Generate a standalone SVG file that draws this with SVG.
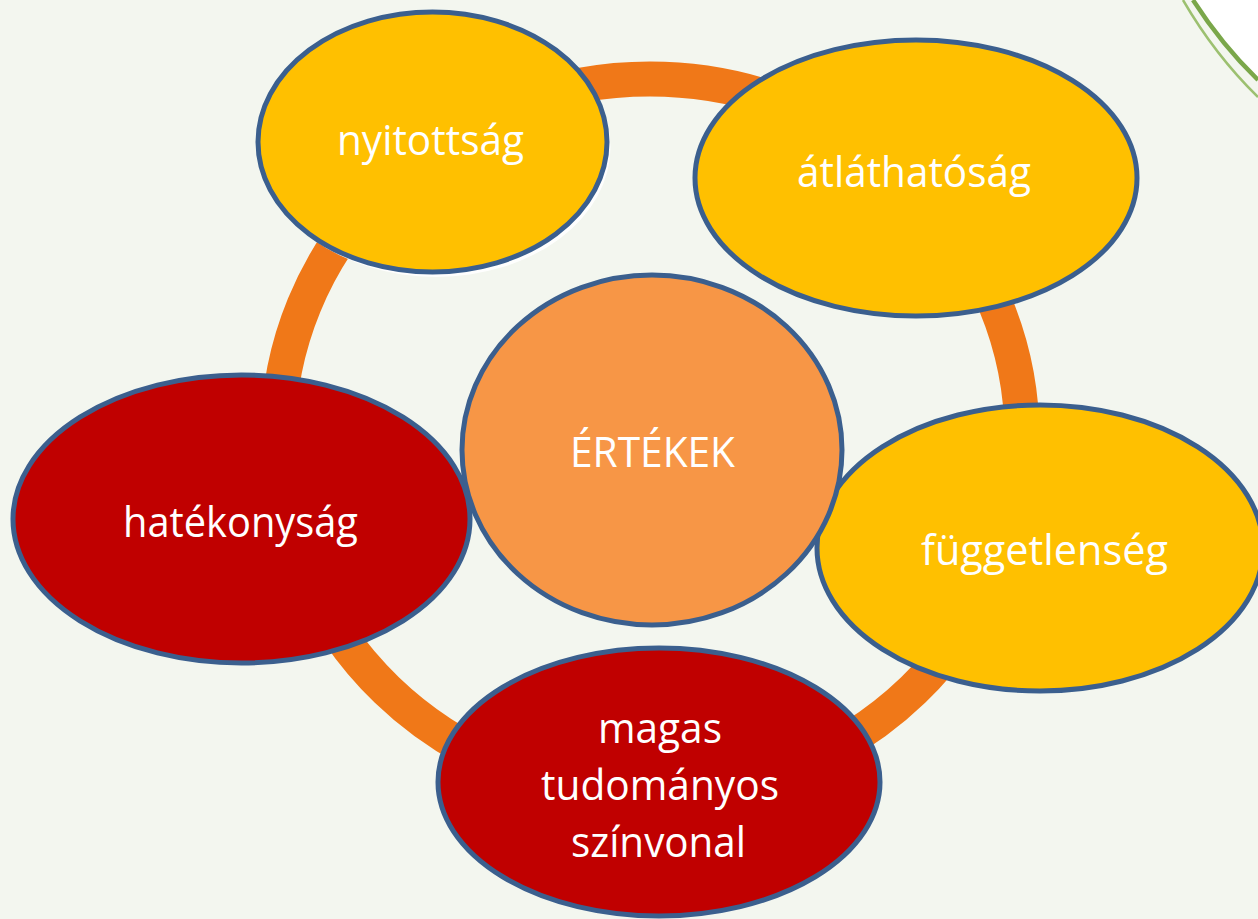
<svg xmlns="http://www.w3.org/2000/svg" width="1258" height="919" viewBox="0 0 1258 919">
  <style>
    .node ellipse.shape { stroke: #3b5f8e; stroke-width: 5; }
    .yellow { fill: #ffc000; }
    .red { fill: #c00000; }
    .center { fill: #f79646; }
    .label { font-family: "Open Sans", "Liberation Sans", Arial, sans-serif; font-size: 42px; fill: #ffffff; text-anchor: middle; }
  </style>
  <rect x="0" y="0" width="1258" height="919" fill="#f3f6ef"/>

  <!-- top-right decoration -->
  <g id="decoration">
    <path d="M1193,0 Q1222,45 1258,80 L1258,0 Z" fill="#ffffff"/>
    <path d="M1183,0 Q1215,55 1258,97" fill="none" stroke="#9cc070" stroke-width="2.5"/>
    <path d="M1193,0 Q1222,45 1258,80" fill="none" stroke="#7aa74a" stroke-width="4.5"/>
  </g>

  <!-- connectors: the orange ring -->
  <g id="connectors">
    <ellipse cx="650" cy="437" rx="372" ry="358" fill="none" stroke="#f07818" stroke-width="35"/>
  </g>

  <g id="node-nyitottsag" class="node">
    <ellipse cx="436" cy="147" rx="174.5" ry="130" fill="#ffffff" opacity="0.9"/>
    <ellipse class="shape yellow" cx="432.5" cy="142" rx="174.5" ry="130"/>
    <text class="label" x="430.5" y="155" textLength="187" lengthAdjust="spacingAndGlyphs">nyitottság</text>
  </g>

  <g id="node-atlathatosag" class="node">
    <ellipse class="shape yellow" cx="916" cy="178" rx="221" ry="138"/>
    <text class="label" x="914" y="187" textLength="234" lengthAdjust="spacingAndGlyphs">átláthatóság</text>
  </g>

  <g id="node-hatekonysag" class="node">
    <ellipse class="shape red" cx="241.5" cy="519" rx="228.5" ry="144"/>
    <text class="label" x="240.5" y="537" textLength="235" lengthAdjust="spacingAndGlyphs">hatékonyság</text>
  </g>

  <g id="node-fuggetlenseg" class="node">
    <ellipse class="shape yellow" cx="1040" cy="548" rx="223" ry="143"/>
    <text class="label" x="1044.5" y="565" textLength="247" lengthAdjust="spacingAndGlyphs">függetlenség</text>
  </g>

  <g id="node-magas" class="node">
    <ellipse class="shape red" cx="659" cy="782" rx="221" ry="134"/>
    <text class="label" x="660" y="743" textLength="124" lengthAdjust="spacingAndGlyphs">magas</text>
    <text class="label" x="660" y="800" textLength="238" lengthAdjust="spacingAndGlyphs">tudományos</text>
    <text class="label" x="658.5" y="857" textLength="175" lengthAdjust="spacingAndGlyphs">színvonal</text>
  </g>

  <g id="node-ertekek" class="node">
    <ellipse class="shape center" cx="652" cy="450" rx="190" ry="175"/>
    <text class="label" x="652.5" y="467" textLength="165" lengthAdjust="spacingAndGlyphs">ÉRTÉKEK</text>
  </g>
</svg>
